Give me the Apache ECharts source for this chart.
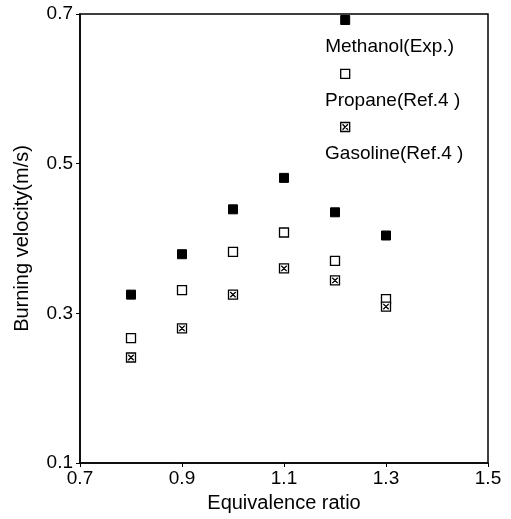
<!DOCTYPE html>
<html>
<head>
<meta charset="utf-8">
<script src="https://cdn.jsdelivr.net/npm/echarts@6/dist/echarts.min.js"></script>
<style>
  html, body { margin: 0; padding: 0; background: #fff; }
  #chart { width: 511px; height: 519px; }
</style>
</head>
<body>
<div id="chart"></div>
<script>
// Equivalence ratios measured
const ratios = [0.8, 0.9, 1.0, 1.1, 1.2, 1.3];
// Burning velocity (m/s)
const methanol = [0.325, 0.379, 0.439, 0.481, 0.435, 0.404];
const propane = [0.267, 0.331, 0.382, 0.408, 0.370, 0.319];
const gasoline = [0.241, 0.280, 0.325, 0.360, 0.344, 0.309];

// In-plot key: symbol position and caption
const keyNames = ['Methanol(Exp.)', 'Propane(Ref.4 )', 'Gasoline(Ref.4 )'];
const keyX = 1.22;
const keyY = [0.692, 0.620, 0.549];

const xTicks = [0.7, 0.9, 1.1, 1.3, 1.5];
const yTicks = [0.1, 0.3, 0.5, 0.7];

const FONT = '"Liberation Sans", Arial, sans-serif';
const crossedSquare = 'path://M0,0L10,0L10,10L0,10Z M2,2L8,8 M8,2L2,8';

const styles = [
  { symbol: 'rect', itemStyle: { color: '#000', borderColor: '#000', borderWidth: 1, opacity: 1 } },
  { symbol: 'rect', itemStyle: { color: '#fff', borderColor: '#000', borderWidth: 1.3, opacity: 1 } },
  { symbol: crossedSquare, itemStyle: { color: '#fff', borderColor: '#000', borderWidth: 1.3, opacity: 1 } }
];

const pairs = arr => ratios.map((r, i) => [r, arr[i]]);

const chart = echarts.init(document.getElementById('chart'));
chart.setOption({
  animation: false,
  backgroundColor: '#fff',
  grid: { left: 80, right: 23, top: 14, bottom: 56, show: true, borderColor: '#000', borderWidth: 1.5 },
  xAxis: {
    type: 'value', min: 0.7, max: 1.5, interval: 0.2,
    name: 'Equivalence ratio', nameLocation: 'middle', nameGap: 30,
    nameTextStyle: { fontFamily: FONT, fontSize: 20, color: '#000' },
    axisLine: { lineStyle: { color: '#000', width: 1.5 } },
    axisTick: { inside: false, length: 4, lineStyle: { color: '#000' } },
    axisLabel: {
      fontFamily: FONT, fontSize: 19, color: '#000', margin: 6,
      formatter: v => xTicks.find(t => Math.abs(t - v) < 1e-6).toFixed(1)
    },
    splitLine: { show: false }
  },
  yAxis: {
    type: 'value', min: 0.1, max: 0.7, interval: 0.2,
    name: 'Burning velocity(m/s)', nameLocation: 'middle', nameGap: 48,
    nameTextStyle: { fontFamily: FONT, fontSize: 20, color: '#000' },
    axisLine: { lineStyle: { color: '#000', width: 1.5 } },
    axisTick: { inside: false, length: 4, lineStyle: { color: '#000' } },
    axisLabel: {
      fontFamily: FONT, fontSize: 19, color: '#000', margin: 7,
      formatter: v => yTicks.find(t => Math.abs(t - v) < 1e-6).toFixed(1)
    },
    splitLine: { show: false }
  },
  series: [
    Object.assign({ type: 'scatter', symbolSize: 9, data: pairs(methanol) }, styles[0]),
    Object.assign({ type: 'scatter', symbolSize: 9, data: pairs(propane) }, styles[1]),
    Object.assign({ type: 'scatter', symbolSize: 9, data: pairs(gasoline) }, styles[2])
  ].concat(keyNames.map((name, i) => Object.assign({
    type: 'scatter', symbolSize: 9,
    data: [[keyX, keyY[i]]],
    label: {
      show: true, position: [-15, 32], align: 'left', verticalAlign: 'middle',
      formatter: name, fontFamily: FONT, fontSize: 19, color: '#000'
    }
  }, styles[i])))
});
</script>
</body>
</html>
